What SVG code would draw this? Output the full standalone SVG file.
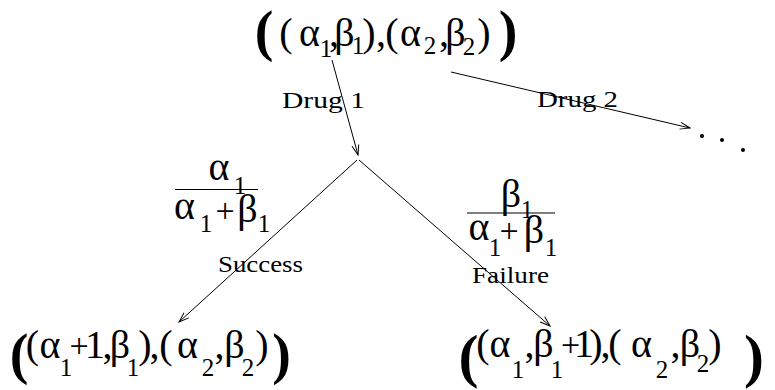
<svg xmlns="http://www.w3.org/2000/svg" width="775" height="390" viewBox="0 0 775 390">
<style>
text{font-family:"Liberation Serif","Times New Roman",serif;fill:#000;text-anchor:middle;font-size:40px}
.s{font-size:25px}
.p{font-size:34px}
.big{font-size:56px;font-weight:bold}
.big2{font-size:60px;font-weight:bold}
.lbl{font-size:24px;text-anchor:start}
.edge{stroke:#000;stroke-width:1;fill:none}
.frac{stroke:#000;stroke-width:1.2}
</style>
<defs>
<marker id="arr" viewBox="-12 -5 13 10" refX="0" refY="0" markerWidth="13" markerHeight="10" markerUnits="userSpaceOnUse" orient="auto">
<path d="M-10,-3.5 L0,0 L-10,3.5" fill="none" stroke="#000" stroke-width="1"/>
</marker>
</defs>
<g id="connectors">
<line class="edge" x1="332" y1="60" x2="358" y2="155" marker-end="url(#arr)"/>
<line class="edge" x1="451" y1="72" x2="690" y2="128" marker-end="url(#arr)"/>
<line class="edge" x1="357" y1="160" x2="179" y2="322" marker-end="url(#arr)"/>
<line class="edge" x1="359" y1="160" x2="550" y2="326" marker-end="url(#arr)"/>
</g>
<g id="root">
<text><tspan class="big" x="264" y="50">(</tspan><tspan x="286" y="46">(</tspan><tspan x="309.5" y="46">α</tspan><tspan class="s" x="326" y="57">1</tspan><tspan x="334" y="46">,</tspan><tspan x="344.5" y="46">β</tspan><tspan class="s" x="358" y="54">1</tspan><tspan x="369" y="46">)</tspan><tspan x="381" y="46">,</tspan><tspan x="392" y="46">(</tspan><tspan x="410.5" y="46">α</tspan><tspan class="s" x="430" y="54">2</tspan><tspan x="444" y="46">,</tspan><tspan x="455.5" y="46">β</tspan><tspan class="s" x="469" y="55">2</tspan><tspan x="484" y="46">)</tspan><tspan class="big" x="508" y="50">)</tspan></text>
</g>
<g id="drug1-label"><text class="lbl" x="282" y="108" textLength="83" lengthAdjust="spacingAndGlyphs">Drug 1</text></g>
<g id="drug2-label"><text class="lbl" x="537" y="107" textLength="81" lengthAdjust="spacingAndGlyphs">Drug 2</text></g>
<g id="more">
<circle cx="702" cy="136" r="2"/>
<circle cx="722" cy="140" r="2"/>
<circle cx="743" cy="150" r="2"/>
</g>
<g id="success-prob">
<line class="frac" x1="175" y1="189.5" x2="258" y2="189.5"/>
<text><tspan x="219" y="180">α</tspan><tspan class="s" x="240" y="194">1</tspan><tspan x="184.5" y="219">α</tspan><tspan class="s" x="206" y="232">1</tspan><tspan class="p" x="225" y="222">+</tspan><tspan x="247.5" y="222">β</tspan><tspan class="s" x="264" y="232">1</tspan></text>
</g>
<g id="success-label"><text class="lbl" x="218" y="272" textLength="85" lengthAdjust="spacingAndGlyphs">Success</text></g>
<g id="failure-prob">
<line class="frac" x1="467" y1="213" x2="555" y2="213"/>
<text><tspan x="511" y="207">β</tspan><tspan class="s" x="527" y="218">1</tspan><tspan x="479" y="240">α</tspan><tspan class="s" x="495" y="256">1</tspan><tspan class="p" x="509" y="242">+</tspan><tspan x="534" y="243">β</tspan><tspan class="s" x="551" y="256">1</tspan></text>
</g>
<g id="failure-label"><text class="lbl" x="472" y="283" textLength="77" lengthAdjust="spacingAndGlyphs">Failure</text></g>
<g id="success-state">
<text><tspan class="big" x="19" y="373">(</tspan><tspan x="32.5" y="358">(</tspan><tspan x="50" y="358">α</tspan><tspan class="s" x="66" y="376">1</tspan><tspan class="p" x="79" y="357">+</tspan><tspan x="95" y="358">1</tspan><tspan x="107.5" y="358">,</tspan><tspan x="120" y="358">β</tspan><tspan class="s" x="133" y="376">1</tspan><tspan x="145" y="358">)</tspan><tspan x="154.5" y="358">,</tspan><tspan x="166" y="358">(</tspan><tspan x="187.5" y="358">α</tspan><tspan class="s" x="208" y="376">2</tspan><tspan x="219.5" y="358">,</tspan><tspan x="234.5" y="358">β</tspan><tspan class="s" x="248" y="376">2</tspan><tspan x="262" y="358">)</tspan><tspan class="big" x="281.5" y="373">)</tspan></text>
</g>
<g id="failure-state">
<text><tspan class="big2" x="468.5" y="376">(</tspan><tspan x="483" y="357">(</tspan><tspan x="500" y="357">α</tspan><tspan class="s" x="518" y="378">1</tspan><tspan x="529.5" y="357">,</tspan><tspan x="543.5" y="357">β</tspan><tspan class="s" x="557" y="378">1</tspan><tspan class="p" x="570.5" y="356">+</tspan><tspan x="584" y="357">1</tspan><tspan x="596" y="357">)</tspan><tspan x="605.5" y="357">,</tspan><tspan x="615" y="357">(</tspan><tspan x="641.5" y="357">α</tspan><tspan class="s" x="662" y="378">2</tspan><tspan x="675.5" y="357">,</tspan><tspan x="690" y="357">β</tspan><tspan class="s" x="703" y="372">2</tspan><tspan x="715" y="357">)</tspan><tspan class="big2" x="754" y="376">)</tspan></text>
</g>
</svg>
